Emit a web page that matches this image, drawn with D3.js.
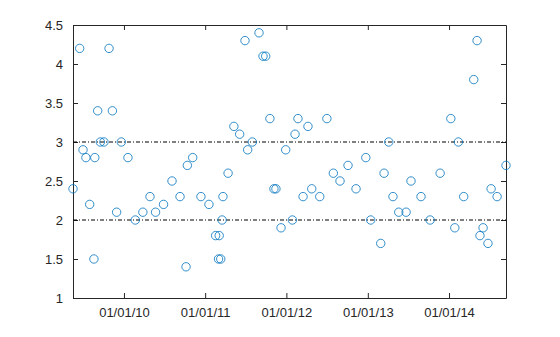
<!doctype html>
<html lang="en">
  <head>
    <meta charset="utf-8">
    <title>Scatter</title>
    <script src="https://d3js.org/d3.v7.min.js"></script>
    <style>
      body { margin: 0; background: #fff; }
      .axes text { font-family: 'Liberation Sans', Helvetica, Arial, sans-serif; font-size: 13px; fill: #262626; }
      .axes path, .axes line { stroke: #262626; }
    </style>
  </head>
  <body>
    <div id="holder" class="visual"></div>
  <script>
      const dates = [
        '2009-05-17','2009-06-16','2009-07-01','2009-07-14','2009-07-31','2009-08-19','2009-08-23','2009-09-05',
        '2009-09-17','2009-10-03','2009-10-26','2009-11-10','2009-11-29','2009-12-20','2010-01-19','2010-02-21',
        '2010-03-27','2010-04-28','2010-05-23','2010-06-28','2010-08-05','2010-09-10','2010-10-07','2010-10-13',
        '2010-11-06','2010-12-13','2011-01-18','2011-02-17','2011-03-02','2011-03-05','2011-03-12','2011-03-18',
        '2011-03-22','2011-04-14','2011-05-10','2011-06-05','2011-06-29','2011-07-11','2011-08-01','2011-08-31',
        '2011-09-18','2011-09-30','2011-10-19','2011-11-06','2011-11-15','2011-12-08','2011-12-29','2012-01-28',
        '2012-02-09','2012-02-22','2012-03-16','2012-04-07','2012-04-24','2012-05-30','2012-07-01','2012-07-30',
        '2012-08-29','2012-10-04','2012-11-09','2012-12-23','2013-01-14','2013-02-28','2013-03-15','2013-04-05',
        '2013-04-24','2013-05-20','2013-06-22','2013-07-14','2013-08-28','2013-10-08','2013-11-22','2014-01-09',
        '2014-01-27','2014-02-12','2014-03-08','2014-04-22','2014-05-07','2014-05-20','2014-06-03','2014-06-25',
        '2014-07-09','2014-08-05','2014-09-14'
      ]
      const values = [
        2.4, 4.2, 2.9, 2.8, 2.2, 1.5, 2.8, 3.4,
        3.0, 3.0, 4.2, 3.4, 2.1, 3.0, 2.8, 2.0,
        2.1, 2.3, 2.1, 2.2, 2.5, 2.3, 1.4, 2.7,
        2.8, 2.3, 2.2, 1.8, 1.5, 1.8, 1.5, 2.0,
        2.3, 2.6, 3.2, 3.1, 4.3, 2.9, 3.0, 4.4,
        4.1, 4.1, 3.3, 2.4, 2.4, 1.9, 2.9, 2.0,
        3.1, 3.3, 2.3, 3.2, 2.4, 2.3, 3.3, 2.6,
        2.5, 2.7, 2.4, 2.8, 2.0, 1.7, 2.6, 3.0,
        2.3, 2.1, 2.1, 2.5, 2.3, 2.0, 2.6, 3.3,
        1.9, 3.0, 2.3, 3.8, 4.3, 1.8, 1.9, 1.7,
        2.4, 2.3, 2.7
      ]
      const yTicks = [1, 1.5, 2, 2.5, 3, 3.5, 4, 4.5]
      const xTickDates = ['2010-01-01','2011-01-01','2012-01-01','2013-01-01','2014-01-01']
      const refLines = [2, 3]

      const margin = {top: 25, right: 54, bottom: 39, left: 73}
      const W = 560, H = 337
      const w = W - margin.left - margin.right
      const h = H - margin.top - margin.bottom

      const parse = d3.timeParse('%Y-%m-%d')
      const points = dates.map(function(d, i) {
        return {date: parse(d), value: values[i]}
      })
      const xTicks = xTickDates.map(parse)

      const x = d3.scaleTime()
          .domain(d3.extent(points, function(d) { return d.date }))
          .range([0, w])
      const y = d3.scaleLinear()
          .domain([1, 4.5])
          .range([h, 0])

      const svg = d3.select('.visual')
          .append('svg')
          .attr('width', W)
          .attr('height', H)
          .append('g')
          .attr('transform', 'translate(' + margin.left + ',' + margin.top + ')')

      const fmt = d3.timeFormat('%m/%d/%y')

      // axes, ticks pointing inwards like matlab
      svg.append('g')
          .attr('class', 'axes')
          .attr('transform', 'translate(0,' + h + ')')
          .call(d3.axisBottom(x).tickValues(xTicks).tickFormat(fmt).tickSizeInner(-5).tickSizeOuter(0).tickPadding(10))
      svg.append('g')
          .attr('class', 'axes')
          .call(d3.axisTop(x).tickValues(xTicks).tickFormat('').tickSizeInner(-5).tickSizeOuter(0))
      svg.append('g')
          .attr('class', 'axes')
          .call(d3.axisLeft(y).tickValues(yTicks).tickFormat(d3.format('')).tickSizeInner(-5).tickSizeOuter(0).tickPadding(10))
      svg.append('g')
          .attr('class', 'axes')
          .attr('transform', 'translate(' + w + ',0)')
          .call(d3.axisRight(y).tickValues(yTicks).tickFormat('').tickSizeInner(-5).tickSizeOuter(0))

      // dash-dot reference lines
      svg.selectAll('.ref')
          .data(refLines)
          .enter()
          .append('line')
          .attr('class', 'ref')
          .attr('x1', 0)
          .attr('x2', w)
          .attr('y1', function(d) { return y(d) })
          .attr('y2', function(d) { return y(d) })
          .attr('stroke', '#000')
          .attr('stroke-width', 1)
          .attr('stroke-dasharray', '4,2,1,2')

      svg.selectAll('circle')
          .data(points)
          .enter()
          .append('circle')
          .attr('cx', function(d) { return x(d.date) })
          .attr('cy', function(d) { return y(d.value) })
          .attr('r', 4.2)
          .attr('fill', 'none')
          .attr('stroke', '#0072BD')
          .attr('stroke-width', 0.8)
  </script>
  </body>
</html>
